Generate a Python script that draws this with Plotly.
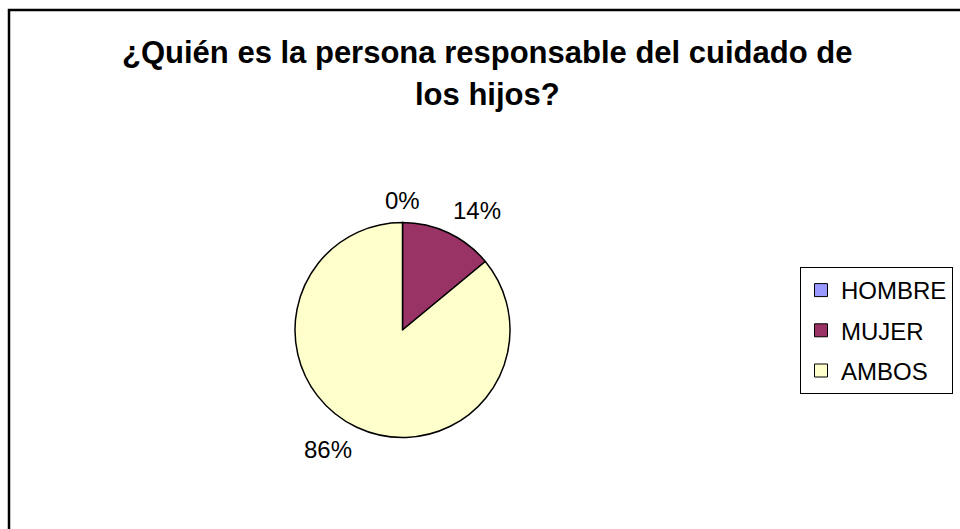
import math
import plotly.graph_objects as go

categories = ["HOMBRE", "MUJER", "AMBOS"]
values = [0, 14, 86]
colors = ["#9999FF", "#993366", "#FFFFCC"]
title_lines = ["¿Quién es la persona responsable del cuidado de", "los hijos?"]

W, H = 960, 529
FONT = "Liberation Sans, Arial"

# pie placement (pixels)
CX, CY, R = 402.5, 330, 107.5

def px_x(x):
    return x / W

def px_y(y):
    return 1 - y / H

fig = go.Figure()
fig.add_trace(go.Pie(
    labels=categories,
    values=values,
    sort=False,
    direction="clockwise",
    rotation=0,
    marker=dict(colors=colors, line=dict(color="black", width=1.5)),
    textinfo="none",
    domain=dict(x=[px_x(CX - R), px_x(CX + R)], y=[px_y(CY + R), px_y(CY - R)]),
    hoverinfo="label+percent",
    showlegend=False,
))

# legend entries (one per category, grouped so a gap separates them)
for cat, col in zip(categories, colors):
    fig.add_trace(go.Scatter(
        x=[None], y=[None], mode="markers", name=cat, legendgroup=cat,
        marker=dict(symbol="square", size=13, color=col, line=dict(color="black", width=1)),
        showlegend=True, hoverinfo="skip",
    ))

annotations = []
for i, line in enumerate(title_lines):
    annotations.append(dict(
        text="<b>" + line + "</b>", x=px_x(487), y=px_y(53 + 41 * i),
        xref="paper", yref="paper", showarrow=False,
        xanchor="center", yanchor="middle",
        font=dict(family=FONT, size=31, color="black"),
    ))

# percentage labels outside each slice, placed along the slice's mid-angle
total = sum(values)
cum = 0
GAP = 7
for v in values:
    frac = v / total
    mid = (cum + frac / 2) * 2 * math.pi
    cum += frac
    s, c = math.sin(mid), math.cos(mid)
    ax = CX + (R + GAP) * s
    ay = CY - (R + GAP) * c
    xa = "left" if s > 0.15 else ("right" if s < -0.15 else "center")
    ya = "bottom" if c > 0 else "top"
    annotations.append(dict(
        text=f"{round(frac * 100)}%", x=px_x(ax), y=px_y(ay),
        xref="paper", yref="paper", showarrow=False,
        xanchor=xa, yanchor=ya,
        font=dict(family=FONT, size=24, color="black"),
    ))

fig.update_layout(
    width=W, height=H,
    margin=dict(l=0, r=0, t=0, b=0),
    paper_bgcolor="white",
    plot_bgcolor="white",
    xaxis=dict(visible=False, range=[0, 1]),
    yaxis=dict(visible=False, range=[0, 1]),
    annotations=annotations,
    showlegend=True,
    legend=dict(
        x=px_x(800), y=px_y(267), xanchor="left", yanchor="top",
        bordercolor="black", borderwidth=1,
        font=dict(family=FONT, size=24, color="black"),
        traceorder="grouped", tracegroupgap=6,
        itemsizing="trace",
    ),
    shapes=[dict(
        type="rect", xref="paper", yref="paper",
        x0=px_x(9), x1=px_x(975), y0=px_y(545), y1=px_y(10),
        line=dict(color="black", width=2.5),
    )],
)

fig.write_html("out.html", config={"displayModeBar": False},
               post_script="document.body.style.margin='0';")
